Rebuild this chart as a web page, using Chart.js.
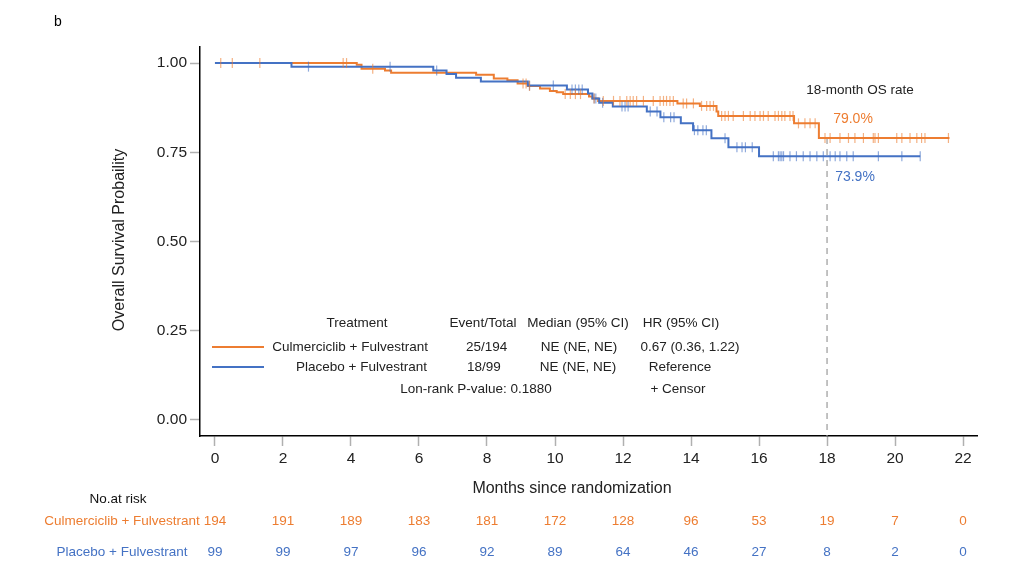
<!DOCTYPE html>
<html>
<head>
<meta charset="utf-8">
<script src="https://cdn.jsdelivr.net/npm/chart.js@4.4.0/dist/chart.umd.min.js"></script>
<style>
  html, body { margin: 0; padding: 0; background: #fff; }
  #wrap { width: 1023px; height: 566px; position: relative; }
</style>
</head>
<body>
<div id="wrap"><canvas id="km" width="1023" height="566"></canvas></div>
<script>
// Culmerciclib + Fulvestrant: step times (months) and survival after each step
const culTimes = [0, 4.17, 4.31, 5.0, 5.18, 7.68, 8.2, 8.6, 8.9, 9.2, 9.56, 9.85, 10.05, 10.24, 11.0, 11.1, 11.27, 13.6, 14.26, 14.75, 14.8, 17.03, 17.76, 21.6];
const culSurv = [1.0, 0.995, 0.984, 0.979, 0.973, 0.967, 0.957, 0.952, 0.943, 0.936, 0.929, 0.922, 0.918, 0.913, 0.906, 0.901, 0.894, 0.887, 0.880, 0.864, 0.852, 0.831, 0.790, 0.790];
const culCensor = [0.17, 0.51, 1.32, 3.77, 3.87, 4.64, 9.06, 9.15, 9.25, 10.3, 10.45, 10.6, 10.75, 11.15, 11.42, 11.72, 11.91, 12.11, 12.21, 12.3, 12.4, 12.6, 12.89, 13.09, 13.19, 13.28, 13.38, 13.48, 13.77, 13.87, 14.07, 14.31, 14.46, 14.56, 14.66, 14.9, 15.0, 15.1, 15.24, 15.54, 15.74, 15.88, 16.03, 16.13, 16.27, 16.47, 16.57, 16.67, 16.76, 16.91, 17.0, 17.16, 17.35, 17.5, 17.65, 17.94, 18.09, 18.38, 18.63, 18.82, 19.07, 19.36, 19.41, 19.51, 20.05, 20.2, 20.44, 20.64, 20.78, 20.88, 21.57];

// Placebo + Fulvestrant
const plaTimes = [0, 2.25, 6.42, 6.81, 7.09, 7.82, 9.2, 10.35, 10.97, 11.1, 11.3, 11.7, 12.7, 13.1, 13.7, 14.06, 14.6, 15.1, 16.0, 20.74];
const plaSurv = [1.0, 0.990, 0.979, 0.969, 0.959, 0.948, 0.937, 0.926, 0.915, 0.901, 0.889, 0.878, 0.864, 0.848, 0.831, 0.812, 0.789, 0.764, 0.739, 0.739];
const plaCensor = [2.75, 5.15, 6.52, 9.25, 9.95, 10.5, 10.6, 10.7, 10.8, 11.15, 11.2, 11.4, 11.97, 12.06, 12.15, 12.8, 13.0, 13.2, 13.4, 13.5, 14.1, 14.2, 14.35, 14.45, 15.0, 15.35, 15.5, 15.6, 15.8, 16.42, 16.57, 16.62, 16.67, 16.72, 16.91, 17.1, 17.3, 17.5, 17.7, 17.89, 18.09, 18.24, 18.38, 18.58, 18.77, 19.51, 20.2, 20.74];

// axis ticks and number at risk
const xTicks = [0, 2, 4, 6, 8, 10, 12, 14, 16, 18, 20, 22];
const yTicks = [0, 0.25, 0.5, 0.75, 1.0];
const riskCul = [194, 191, 189, 183, 181, 172, 128, 96, 53, 19, 7, 0];
const riskPla = [99, 99, 97, 96, 92, 89, 64, 46, 27, 8, 2, 0];

const rateMonth = 18;
const rateCul = 0.790;

const ORANGE = '#ED7D31';
const BLUE = '#4472C4';
const FONT = '"Liberation Sans", Arial, sans-serif';

function survAt(times, surv, t) {
  let s = surv[0];
  for (let i = 0; i < times.length; i++) {
    if (times[i] <= t) s = surv[i];
  }
  return s;
}

const yMin = -0.045;

const extras = {
  id: 'extras',
  afterDraw(chart) {
    const ctx = chart.ctx;
    const xs = chart.scales.x;
    ctx.save();
    ctx.textBaseline = 'middle';

    function txt(s, x, y, size, color, align) {
      ctx.font = size + 'px ' + FONT;
      ctx.fillStyle = color;
      ctx.textAlign = align || 'center';
      ctx.fillText(s, x, y);
    }

    txt('b', 58, 22, 14, '#000');

    // y title
    ctx.save();
    ctx.translate(120, 240);
    ctx.rotate(-Math.PI / 2);
    txt('Overall Survival Probaility', 0, 0, 16, '#222');
    ctx.restore();

    txt('Months since randomization', 572, 489, 16, '#222');

    // 18-month rate notes
    txt('18-month OS rate', 860, 90, 13.5, '#222');
    txt('79.0%', 853, 119, 14, ORANGE);
    txt('73.9%', 855, 177, 14, BLUE);

    // legend table
    const f = 13.5, k = '#222';
    txt('Treatment', 357, 323, f, k);
    txt('Event/Total', 483, 323, f, k);
    txt('Median (95% CI)', 578, 323, f, k);
    txt('HR (95% CI)', 681, 323, f, k);
    txt('Culmerciclib + Fulvestrant', 428, 347, f, k, 'right');
    txt('25/194', 466, 347, f, k, 'left');
    txt('NE (NE, NE)', 579, 347, f, k);
    txt('0.67 (0.36, 1.22)', 690, 347, f, k);
    txt('Placebo + Fulvestrant', 427, 367, f, k, 'right');
    txt('18/99', 467, 367, f, k, 'left');
    txt('NE (NE, NE)', 578, 367, f, k);
    txt('Reference', 680, 367, f, k);
    txt('Lon-rank P-value: 0.1880', 476, 389, f, k);
    txt('+ Censor', 678, 389, f, k);

    ctx.lineWidth = 2;
    ctx.strokeStyle = ORANGE;
    ctx.beginPath(); ctx.moveTo(212, 347); ctx.lineTo(264, 347); ctx.stroke();
    ctx.strokeStyle = BLUE;
    ctx.beginPath(); ctx.moveTo(212, 367); ctx.lineTo(264, 367); ctx.stroke();

    // number at risk
    txt('No.at risk', 118, 499, f, '#111');
    txt('Culmerciclib + Fulvestrant', 122, 521, f, ORANGE);
    txt('Placebo + Fulvestrant', 122, 552, f, BLUE);
    xTicks.forEach((t, i) => {
      const px = xs.getPixelForValue(t);
      txt(String(riskCul[i]), px, 521, f, ORANGE);
      txt(String(riskPla[i]), px, 552, f, BLUE);
    });
    ctx.restore();
  }
};

new Chart(document.getElementById('km'), {
  type: 'line',
  data: {
    datasets: [
      {
        label: 'Culmerciclib + Fulvestrant',
        data: culTimes.map((t, i) => ({ x: t, y: culSurv[i] })),
        stepped: 'before',
        borderColor: ORANGE,
        borderWidth: 2,
        pointRadius: 0,
        fill: false,
        order: 2
      },
      {
        label: 'Placebo + Fulvestrant',
        data: plaTimes.map((t, i) => ({ x: t, y: plaSurv[i] })),
        stepped: 'before',
        borderColor: BLUE,
        borderWidth: 2,
        pointRadius: 0,
        fill: false,
        order: 1
      },
      {
        label: 'Censor cul',
        data: culCensor.map(t => ({ x: t, y: survAt(culTimes, culSurv, t) })),
        showLine: false,
        pointStyle: 'line',
        rotation: 90,
        pointRadius: 5,
        borderColor: 'rgba(237,125,49,0.6)',
        backgroundColor: 'rgba(237,125,49,0.6)',
        pointBorderWidth: 1.2,
        order: 0
      },
      {
        label: 'Censor pla',
        data: plaCensor.map(t => ({ x: t, y: survAt(plaTimes, plaSurv, t) })),
        showLine: false,
        pointStyle: 'line',
        rotation: 90,
        pointRadius: 5,
        borderColor: 'rgba(68,114,196,0.6)',
        backgroundColor: 'rgba(68,114,196,0.6)',
        pointBorderWidth: 1.2,
        order: 0
      },
      {
        label: '18-month',
        data: [{ x: rateMonth, y: rateCul }, { x: rateMonth, y: yMin }],
        borderColor: '#9a9a9a',
        borderWidth: 1.2,
        borderDash: [6, 5],
        pointRadius: 0,
        fill: false,
        order: 3
      }
    ]
  },
  options: {
    responsive: false,
    animation: false,
    layout: { padding: { left: 0, right: 46, top: 47, bottom: 100 } },
    plugins: {
      legend: { display: false },
      tooltip: { enabled: false }
    },
    scales: {
      x: {
        type: 'linear',
        min: -0.44,
        max: 22.41,
        afterBuildTicks: s => { s.ticks = xTicks.map(v => ({ value: v })); },
        afterFit: s => { s.height = 30; },
        ticks: { font: { size: 15.5, family: FONT }, color: '#222', padding: 3, maxRotation: 0, autoSkip: false },
        grid: { drawOnChartArea: false, tickLength: 10, tickColor: '#b0b0b0', tickWidth: 1.5 },
        border: { color: '#000', width: 1.5 }
      },
      y: {
        type: 'linear',
        min: yMin,
        max: 1.045,
        afterBuildTicks: s => { s.ticks = yTicks.map(v => ({ value: v })); },
        afterFit: s => { s.width = 200; },
        ticks: { font: { size: 15.5, family: FONT }, color: '#222', padding: 3, callback: v => v.toFixed(2) },
        grid: { drawOnChartArea: false, tickLength: 10, tickColor: '#b0b0b0', tickWidth: 1.5 },
        border: { color: '#000', width: 1.5 }
      }
    }
  },
  plugins: [extras]
});
</script>
</body>
</html>
